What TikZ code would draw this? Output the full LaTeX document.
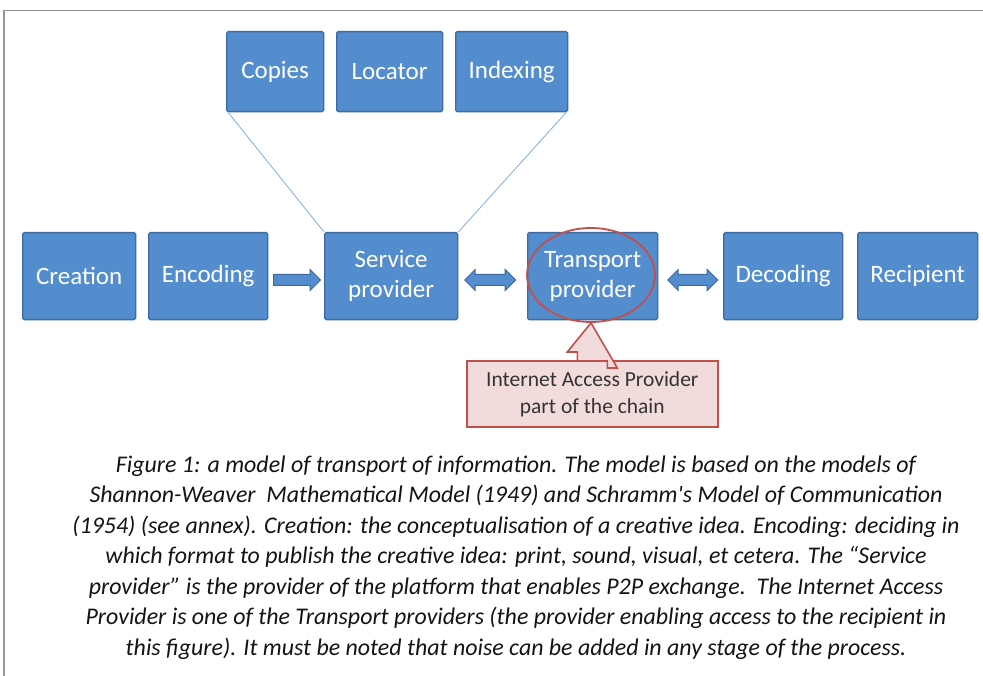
\documentclass[tikz,border=0pt]{standalone}
\usepackage{fontspec}
\setmainfont{Carlito}
\usetikzlibrary{shapes.arrows,shapes.geometric}
\definecolor{boxfill}{RGB}{84,141,205}
\definecolor{boxline}{RGB}{62,106,160}
\definecolor{linkline}{RGB}{141,179,226}
\definecolor{callfill}{RGB}{242,220,219}
\definecolor{callline}{RGB}{192,80,77}
\definecolor{framegray}{RGB}{150,150,150}
\definecolor{captext}{RGB}{20,20,20}
\begin{document}
\begin{tikzpicture}[x=1pt,y=-1pt,
  stage/.style={draw=boxline,fill=boxfill,line width=1.3pt,rounded corners=1.5pt,
    text=white,font=\fontsize{25}{30}\selectfont,align=center,inner sep=0pt,anchor=north west},
  flowarrow/.style={draw=boxline,fill=boxfill,line width=1pt,inner sep=5pt,
    minimum height=#1,anchor=west},
  link/.style={draw=linkline,line width=0.9pt}]
\useasboundingbox (0,0) rectangle (983,676);
\fill[white] (0,0) rectangle (983,676);
% page frame
\draw[framegray,line width=1.6pt] (4,676) -- (4,10.5) -- (983,10.5);

% helper stages
\node[stage,minimum width=97,minimum height=80] (copies) at (226,31) {Copies};
\node[stage,minimum width=106,minimum height=80] (locator) at (336,31) {Locator};
\node[stage,minimum width=112,minimum height=80] (indexing) at (455,31) {Indexing};

% main chain
\node[stage,minimum width=113,minimum height=87] (creation) at (22,232) {Creation};
\node[stage,minimum width=119,minimum height=87] (encoding) at (148,232) {Encoding};
\node[stage,minimum width=133,minimum height=87] (service) at (324,232) {Service\\provider};
\node[stage,minimum width=130,minimum height=87] (transport) at (527,232) {Transport\\provider};
\node[stage,minimum width=119,minimum height=87] (decoding) at (723,232) {Decoding};
\node[stage,minimum width=120,minimum height=87] (recipient) at (857,232) {Recipient};

% links from the service provider to its helpers
\draw[link] ([xshift=2pt]copies.south west) -- (service.north west);
\draw[link] ([xshift=-2pt]indexing.south east) -- (service.north east);

% block arrows between stages
\node[single arrow,flowarrow=47,single arrow head extend=5pt] (a1) at (273,280) {};
\node[double arrow,flowarrow=51,double arrow head extend=5pt] (a2) at (464,280) {};
\node[double arrow,flowarrow=50,double arrow head extend=5pt] (a3) at (667,280) {};

% highlight of the transport provider
\node[draw=callline,line width=1.8pt,ellipse,minimum width=128,minimum height=94,inner sep=0pt] (ring) at (591,275) {};

% callout
\node[draw=callline,fill=callfill,line width=1.6pt,minimum width=251,minimum height=66,inner sep=0pt,
  text=black!80,font=\fontsize{21.5}{27}\selectfont,align=center,anchor=north west] (call) at (466,360)
  {Internet Access Provider\\part of the chain};
\draw[draw=callline,fill=callfill,line width=1.6pt,line join=miter]
  ([xshift=-15pt]call.north) -- ++(0,-8) -- ++(-10,0) -- (ring.south) -- ([xshift=25pt,yshift=-8pt]call.north)
  -- ++(-10,0) -- ([xshift=15pt]call.north);

% caption
\node[text=captext,font=\itshape\fontsize{23.9}{30.5}\selectfont,align=center,anchor=north] (caption) at (516,452)
  {Figure 1: a model of transport of information. The model is based on the models of\\
   Shannon-Weaver\ \ Mathematical Model (1949) and Schramm\textquotesingle s Model of Communication\\
   (1954) (see annex). Creation: the conceptualisation of a creative idea. Encoding: deciding in\\
   which format to publish the creative idea: print, sound, visual, et cetera. The “Service\\
   provider” is the provider of the platform that enables P2P exchange.\ \ The Internet Access\\
   Provider is one of the Transport providers (the provider enabling access to the recipient in\\
   this figure). It must be noted that noise can be added in any stage of the process.};
\end{tikzpicture}
\end{document}
